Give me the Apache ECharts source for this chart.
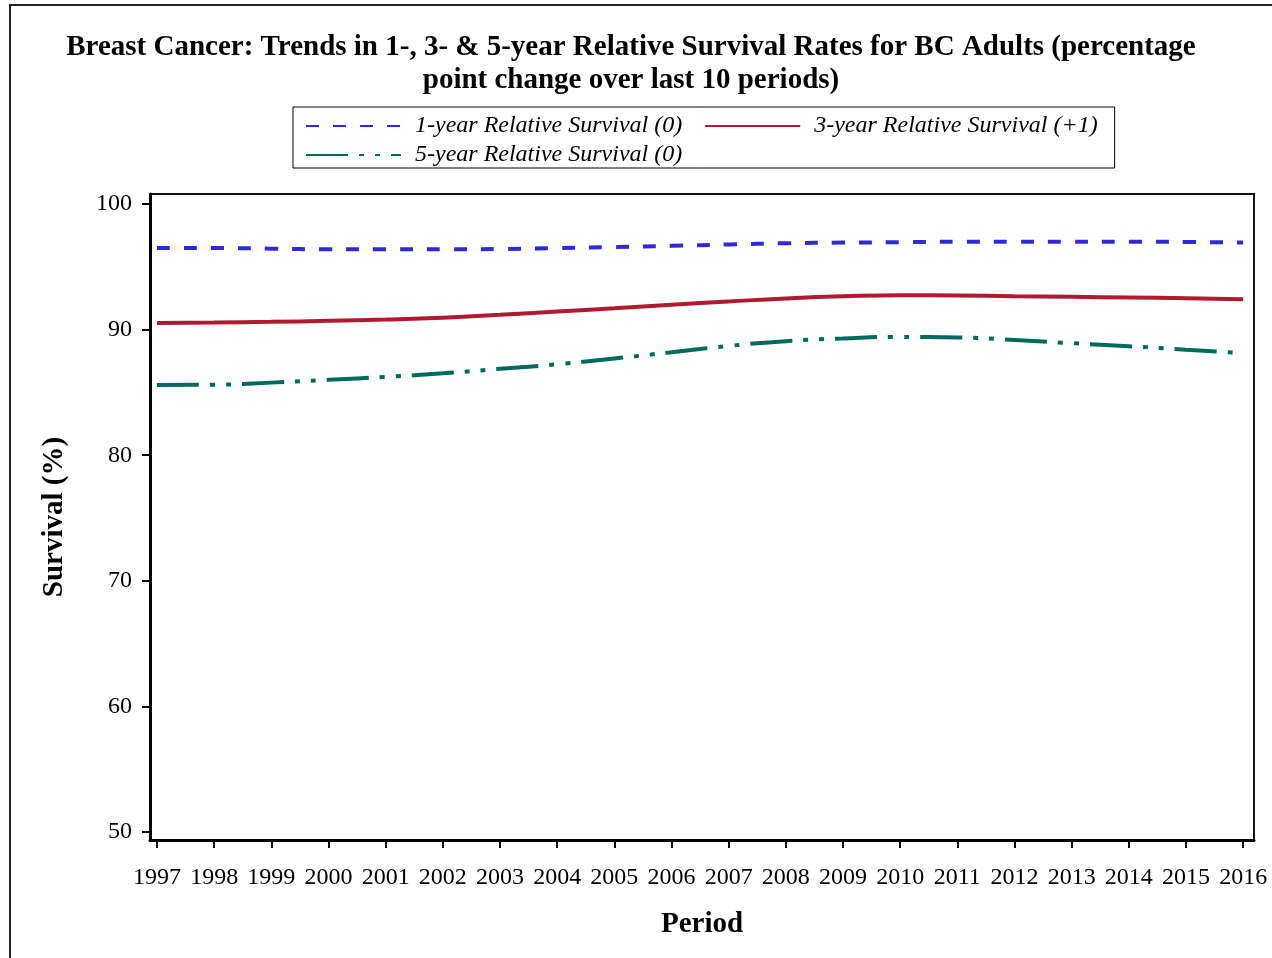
<!DOCTYPE html>
<html>
<head>
<meta charset="utf-8">
<script src="https://cdn.jsdelivr.net/npm/echarts@6/dist/echarts.min.js"></script>
<style>
html,body{margin:0;padding:0;background:#fff;}
#chart{width:1272px;height:958px;}
</style>
</head>
<body>
<div id="chart"></div>
<script>
var years = [1997,1998,1999,2000,2001,2002,2003,2004,2005,2006,2007,2008,2009,2010,2011,2012,2013,2014,2015,2016];
var oneYear = [96.5,96.5,96.45,96.4,96.4,96.4,96.42,96.5,96.58,96.67,96.78,96.88,96.93,96.96,97.0,97.0,97.0,97.0,96.98,96.93];
var threeYear = [90.52,90.56,90.62,90.7,90.8,90.95,91.18,91.44,91.7,91.98,92.24,92.48,92.65,92.74,92.72,92.66,92.61,92.56,92.5,92.42];
var fiveYear = [85.6,85.62,85.78,86.0,86.24,86.52,86.88,87.24,87.7,88.2,88.7,89.08,89.3,89.42,89.38,89.18,88.92,88.68,88.4,88.14];
var yTicks = [50,60,70,80,90,100];
var seriesNames = ['1-year Relative Survival (0)','3-year Relative Survival (+1)','5-year Relative Survival (0)'];

function pairs(vals){ return years.map(function(y,i){ return [y, vals[i]]; }); }

var serif = "'Liberation Serif','DejaVu Serif',serif";
var chart = echarts.init(document.getElementById('chart'), null, {renderer:'canvas'});
chart.setOption({
  backgroundColor:'#fff',
  animation:false,
  graphic:[{type:'rect', shape:{x:10,y:5,width:1300,height:1000}, style:{fill:'none', stroke:'#222', lineWidth:2}, silent:true}],
  title:{
    text:'Breast Cancer: Trends in 1-, 3- & 5-year Relative Survival Rates for BC Adults (percentage\npoint change over last 10 periods)',
    left:631, top:31, padding:0, textAlign:'center',
    textStyle:{fontFamily:serif, fontWeight:'bold', fontSize:29, lineHeight:33, color:'#000'}
  },
  legend:{
    left:293, top:107, width:840,
    padding:[7,0,1,12],
    borderColor:'#000', borderWidth:1,
    itemWidth:95, itemHeight:14, itemGap:5,
    data:seriesNames,
    itemStyle:{opacity:0},
    lineStyle:{width:2},
    textStyle:{fontFamily:serif, fontStyle:'italic', fontSize:24, lineHeight:24, color:'#000', padding:[0,17,0,9]}
  },
  grid:{left:150, right:18, top:194, bottom:118, show:true, borderColor:'#111', borderWidth:2, containLabel:false},
  xAxis:{
    type:'value', min:1996.878, max:2016.19,
    name:'Period', nameLocation:'middle', nameGap:70,
    nameTextStyle:{fontFamily:serif, fontWeight:'bold', fontSize:29, color:'#000'},
    axisLine:{show:true, lineStyle:{color:'#000', width:3}},
    axisTick:{show:true, length:8, lineStyle:{color:'#000', width:2}, customValues:years},
    axisLabel:{customValues:years, fontFamily:serif, fontSize:24, color:'#000', margin:26, formatter:function(v){return String(v);}},
    splitLine:{show:false}
  },
  yAxis:{
    type:'value', min:49.36, max:100.8,
    name:'Survival (%)', nameLocation:'middle', nameGap:81, nameRotate:90,
    nameTextStyle:{fontFamily:serif, fontWeight:'bold', fontSize:29, color:'#000'},
    axisLine:{show:true, lineStyle:{color:'#000', width:3}},
    axisTick:{show:true, length:8, lineStyle:{color:'#000', width:2}, customValues:yTicks},
    axisLabel:{customValues:yTicks, fontFamily:serif, fontSize:24, color:'#000', margin:18},
    splitLine:{show:false}
  },
  series:[
    {name:seriesNames[0], type:'line', data:pairs(oneYear), symbol:'none', smooth:0.5,
     lineStyle:{color:'#2f28d9', width:4, type:[13,14], cap:'butt'}, itemStyle:{color:'#2f28d9'}},
    {name:seriesNames[1], type:'line', data:pairs(threeYear), symbol:'none', smooth:0.5,
     lineStyle:{color:'#b0192f', width:4, type:'solid'}, itemStyle:{color:'#b0192f'}},
    {name:seriesNames[2], type:'line', data:pairs(fiveYear), symbol:'none', smooth:0.5,
     lineStyle:{color:'#006a5e', width:4, type:[42,11,5,11,5,11], cap:'butt'}, itemStyle:{color:'#006a5e'}}
  ]
});
</script>
</body>
</html>
